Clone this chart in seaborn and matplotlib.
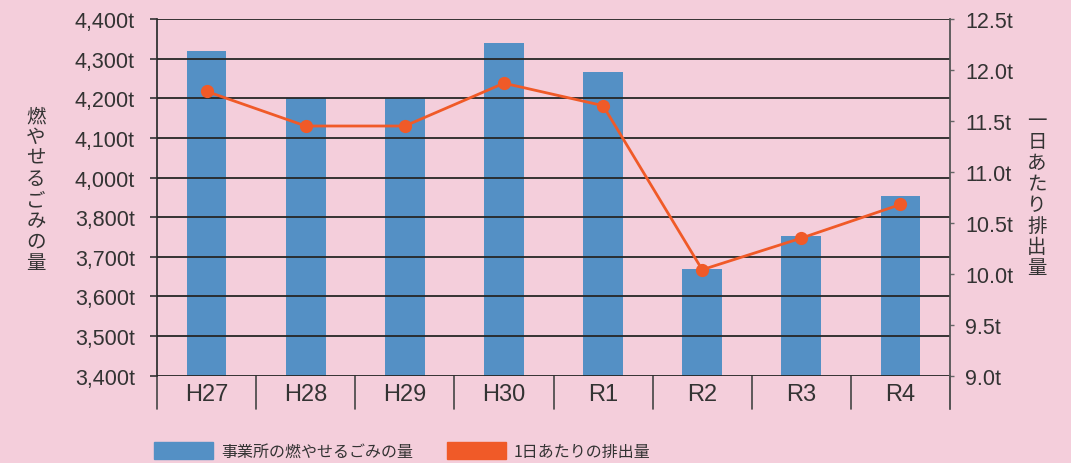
import matplotlib
matplotlib.use("Agg")
import matplotlib.pyplot as plt
import matplotlib.patches as mpatches
import pandas as pd
import seaborn as sns

# ------------------ DATA ------------------
years = ["H27", "H28", "H29", "H30", "R1", "R2", "R3", "R4"]
waste_total = [4319, 4200, 4200, 4339, 4267, 3769, 3852, 3953]      # t (left axis)
waste_daily = [11.79, 11.45, 11.45, 11.87, 11.65, 10.04, 10.35, 10.68]  # t/day (right axis)

left_ticks = [3500, 3600, 3700, 3800, 3900, 4000, 4100, 4200, 4300, 4400]
left_labels = ["3,400t", "3,500t", "3,600t", "3,700t", "3,800t",
               "4,000t", "4,100t", "4,200t", "4,300t", "4,400t"]
right_ticks = [9.0, 9.5, 10.0, 10.5, 11.0, 11.5, 12.0, 12.5]
right_labels = ["9.0t", "9.5t", "10.0t", "10.5t", "11.0t", "11.5t", "12.0t", "12.5t"]

left_title = "燃やせるごみの量"
right_title = "一日あたり排出量"
legend_bar = "事業所の燃やせるごみの量"
legend_line = "1日あたりの排出量"

df = pd.DataFrame({"year": years, "total": waste_total, "daily": waste_daily})

# ------------------ STYLE ------------------
bg = "#F4CEDB"
bar_color = "#5490C5"
line_color = "#F05A28"
text_color = "#333333"

sns.set_style("white")
plt.rcParams["font.family"] = ["Liberation Sans", "Noto Sans CJK JP", "DejaVu Sans"]
plt.rcParams["text.color"] = text_color

fig = plt.figure(figsize=(10.71, 4.64), dpi=100, facecolor=bg)
ax = fig.add_axes([157 / 1071, 1 - 376.7 / 464, (950 - 157) / 1071, 356.7 / 464])
ax.set_facecolor(bg)

# ------------------ BARS ------------------
sns.barplot(data=df, x="year", y="total", color=bar_color, width=0.4,
            saturation=1, ax=ax, zorder=1, edgecolor="none", linewidth=0)
ax.set_ylim(3500, 4400)
ax.set_xlim(-0.5, 7.5)
ax.set_yticks(left_ticks)
ax.set_yticklabels(left_labels)
ax.set_xlabel("")
ax.set_ylabel("")
ax.set_axisbelow(False)
ax.grid(axis="y", color="#262626", linewidth=1.3)
ax.tick_params(axis="y", length=5, width=1.2, color="#333333", pad=11,
               labelsize=15.5, labelcolor=text_color)
ax.tick_params(axis="x", length=0, pad=5, labelsize=17, labelcolor=text_color)
for s in ["top", "bottom"]:
    ax.spines[s].set_visible(False)
ax.spines["left"].set_color("#333333")
ax.spines["left"].set_linewidth(1.3)
ax.spines["right"].set_visible(False)

# category divider boxes under the axis
trans = ax.get_xaxis_transform()
for b in [i - 0.5 for i in range(len(years) + 1)]:
    ax.plot([b, b], [-0.094, 0], transform=trans, color="#444444",
            linewidth=1.2, clip_on=False)

# ------------------ LINE ------------------
ax2 = ax.twinx()
sns.pointplot(data=df, x="year", y="daily", color=line_color, ax=ax2,
              markers="o", markersize=8, linewidth=2)
ax2.set_xlim(-0.5, 7.5)
ax2.set_ylim(9.0, 12.5)
ax2.set_yticks(right_ticks)
ax2.set_yticklabels(right_labels)
ax2.set_ylabel("")
ax2.set_xlabel("")
ax2.tick_params(axis="y", length=3, width=1, color="#666666", pad=8,
                labelsize=15.5, labelcolor=text_color)
for s in ["top", "bottom", "left"]:
    ax2.spines[s].set_visible(False)
ax2.spines["right"].set_color("#555555")
ax2.spines["right"].set_linewidth(1.3)
ax2.spines["right"].set_bounds(9.0, 12.5)
ax2.plot([7.5, 7.5], [-0.094, 0], transform=ax2.get_xaxis_transform(),
         color="#555555", linewidth=1.3, clip_on=False)

# ------------------ AXIS TITLES (vertical) ------------------
fig.text(36 / 1071, 1 - 190 / 464, "\n".join(left_title), ha="center", va="center",
         fontsize=14, linespacing=1.0, family=["Noto Sans CJK JP"])
fig.text(1037 / 1071, 1 - 195 / 464, "\n".join(right_title), ha="center", va="center",
         fontsize=14, linespacing=1.0, family=["Noto Sans CJK JP"])

# ------------------ LEGEND ------------------
handles = [mpatches.Patch(color=bar_color, label=legend_bar),
           mpatches.Patch(color=line_color, label=legend_line)]
fig.legend(handles=handles, loc="center left", bbox_to_anchor=(140 / 1071, 1 - 452 / 464),
           ncol=2, frameon=False, handlelength=3.7, handleheight=1.25,
           handletextpad=0.5, columnspacing=2.1,
           prop={"family": ["Noto Sans CJK JP"], "size": 11.5})

fig.savefig("out.png", dpi=100, facecolor=bg)
